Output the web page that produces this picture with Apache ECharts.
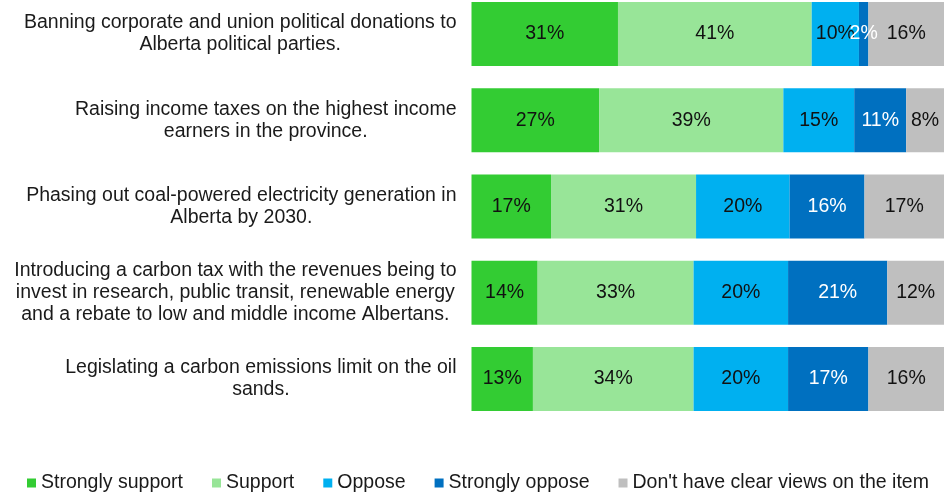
<!DOCTYPE html>
<html>
<head>
<meta charset="utf-8">
<script src="https://cdn.jsdelivr.net/npm/echarts@6/dist/echarts.min.js"></script>
<style>
html,body{margin:0;padding:0;background:#fff;}
#chart{width:947px;height:495px;}
</style>
</head>
<body>
<div id="chart"></div>
<script>
const categories = [
  "Banning corporate and union political donations to\nAlberta political parties.",
  "Raising income taxes on the highest income\nearners in the province.",
  "Phasing out coal-powered electricity generation in\nAlberta by 2030.",
  "Introducing a carbon tax with the revenues being to\ninvest in research, public transit, renewable energy\nand a rebate to low and middle income Albertans.",
  "Legislating a carbon emissions limit on the oil\nsands."
];
const seriesNames = ["Strongly support", "Support", "Oppose", "Strongly oppose", "Don't have clear views on the item"];
const stronglySupport = [31, 27, 17, 14, 13];
const support = [41, 39, 31, 33, 34];
const oppose = [10, 15, 20, 20, 20];
const stronglyOppose = [2, 11, 16, 21, 17];
const noClearView = [16, 8, 17, 12, 16];
const colors = ["#33CC33", "#98E598", "#00B0F0", "#0070C0", "#BFBFBF"];
const labelColors = ["#111", "#111", "#111", "#fff", "#111"];

const FONT = 'Liberation Sans, Arial, sans-serif';
const allValues = [stronglySupport, support, oppose, stronglyOppose, noClearView];
const rowTotals = categories.map((_, i) => allValues.reduce((s, arr) => s + arr[i], 0));

const series = allValues.map((arr, k) => ({
  name: seriesNames[k],
  type: 'bar',
  stack: 'total',
  barWidth: 64,
  clip: false,
  itemStyle: { color: colors[k] },
  label: {
    show: true,
    position: 'inside',
    color: labelColors[k],
    fontFamily: FONT,
    fontSize: 19.5,
    formatter: p => arr[p.dataIndex] + '%'
  },
  emphasis: { disabled: true },
  data: arr.map((v, i) => v / rowTotals[i] * 100)
}));

const chart = echarts.init(document.getElementById('chart'), null, { renderer: 'canvas' });
chart.setOption({
  animation: false,
  backgroundColor: '#fff',
  grid: { left: 471.5, right: 3, top: 34, bottom: 116, containLabel: false },
  xAxis: { type: 'value', min: 0, max: 100, show: false },
  yAxis: {
    type: 'category',
    inverse: true,
    boundaryGap: false,
    data: categories,
    axisLine: { show: false },
    axisTick: { show: false },
    splitLine: { show: false },
    axisLabel: {
      margin: 15,
      align: 'right',
      color: '#1a1a1a',
      fontFamily: FONT,
      fontSize: 19.5,
      lineHeight: 22,
      formatter: v => v.split('\n').map(l => '{c|' + l + '}').join('\n'),
      rich: {
        c: { align: 'center', fontSize: 19.5, lineHeight: 22, color: '#1a1a1a', fontFamily: FONT }
      }
    }
  },
  legend: {
    top: 468,
    left: 22,
    icon: 'rect',
    itemWidth: 9,
    itemHeight: 9,
    itemGap: 29,
    textStyle: { color: '#1a1a1a', fontSize: 19.5, fontFamily: FONT },
    data: seriesNames
  },
  series: series
});
</script>
</body>
</html>
